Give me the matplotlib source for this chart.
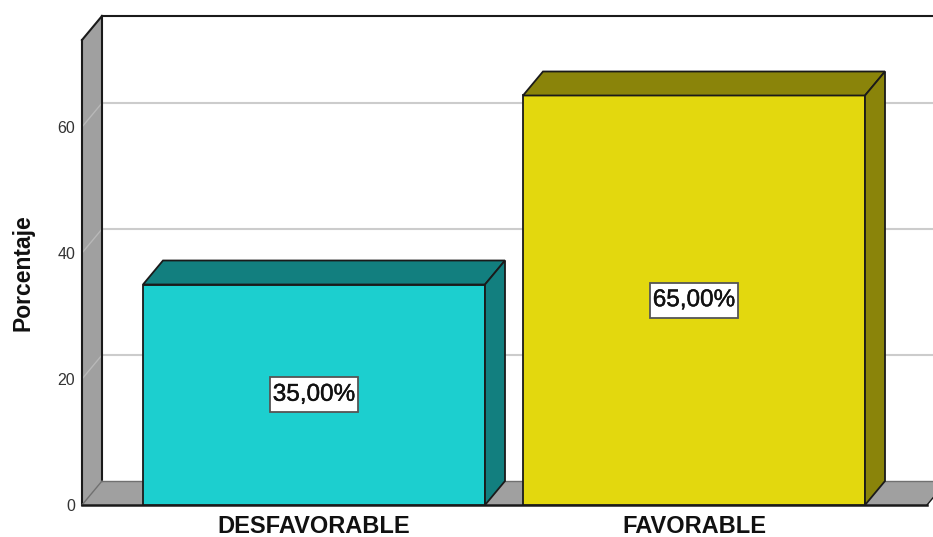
import matplotlib
matplotlib.use('Agg')
import matplotlib.pyplot as plt
import matplotlib.patheffects as pe
from matplotlib.patches import Polygon, Rectangle

categorias = ['DESFAVORABLE', 'FAVORABLE']
porcentajes = [35.0, 65.0]
etiquetas = ['35,00%', '65,00%']
colores = ['#1ccfcf', '#e3d80e']
colores_lado = ['#127f7f', '#8a840a']
ticks_y = [0, 20, 40, 60]

plt.rcParams['font.family'] = ['Liberation Sans', 'DejaVu Sans']

W, H = 933, 537
fig = plt.figure(figsize=(W / 100, H / 100), dpi=100)
# ejes en pixeles de la imagen
ax = fig.add_axes([82 / W, (H - 505) / H, (927 - 82) / W, (505 - 40) / H])
px_x = 380.0
px_y = 6.3
ax.set_xlim(-(314 - 82) / px_x, (927 - 314) / px_x)
ax.set_ylim(0, (505 - 40) / px_y)
dx = 20 / px_x
dy = 24 / px_y
ancho = 342 / px_x
x0, x1 = ax.get_xlim()
y1 = ax.get_ylim()[1]
negro = '#1a1a1a'
gris = '#a0a0a0'


def poly(puntos, **kw):
    p = Polygon(puntos, closed=True, clip_on=False, **kw)
    ax.add_patch(p)


# pared izquierda y suelo
poly([(x0, 0), (x0 + dx, dy), (x0 + dx, y1 + dy), (x0, y1)], facecolor=gris, edgecolor='none', zorder=1)
poly([(x0, 0), (x0 + dx, dy), (x1 + dx, dy), (x1, 0)], facecolor=gris, edgecolor='none', zorder=1)
# rejilla
for t in ticks_y[1:]:
    ax.plot([x0, x0 + dx], [t, t + dy], color='#b8b8b8', lw=1.0, clip_on=False, zorder=2)
    ax.plot([x0 + dx, x1 + dx], [t + dy, t + dy], color='#cccccc', lw=1.5, clip_on=False, zorder=2)
# bordes
ax.plot([x0, x0], [0, y1], color=negro, lw=1.5, clip_on=False, zorder=3)
ax.plot([x0 + dx, x0 + dx], [dy, y1 + dy], color=negro, lw=1.5, clip_on=False, zorder=3)
ax.plot([x0, x0 + dx], [y1, y1 + dy], color=negro, lw=1.5, clip_on=False, zorder=3)
ax.plot([x0 + dx, x1 + dx], [y1 + dy, y1 + dy], color=negro, lw=1.5, clip_on=False, zorder=3)
ax.plot([x0, x0 + dx], [0, dy], color='#707070', lw=1, clip_on=False, zorder=3)
ax.plot([x0 + dx, x1 + dx], [dy, dy], color='#707070', lw=1, clip_on=False, zorder=3)
ax.plot([x1, x1 + dx], [0, dy], color=negro, lw=1, clip_on=False, zorder=3)
ax.plot([x0, x1], [0, 0], color=negro, lw=1.8, clip_on=False, zorder=3)

# barras 3D
caja_w = 88 / px_x
caja_h = 35 / px_y
for i, v in enumerate(porcentajes):
    a = i - ancho / 2
    b = i + ancho / 2
    ax.bar(i, v, width=ancho, color=colores[i], edgecolor=negro, linewidth=1.3, zorder=4)
    poly([(a, v), (a + dx, v + dy), (b + dx, v + dy), (b, v)],
         facecolor=colores_lado[i], edgecolor=negro, linewidth=1.3, zorder=4)
    poly([(b, 0), (b + dx, dy), (b + dx, v + dy), (b, v)],
         facecolor=colores_lado[i], edgecolor=negro, linewidth=1.3, zorder=4)
    ax.add_patch(Rectangle((i - caja_w / 2, v / 2 - caja_h / 2), caja_w, caja_h, facecolor='white',
                           edgecolor='#555555', linewidth=1.3, zorder=5))
    ax.text(i, v / 2, etiquetas[i], ha='center', va='center', fontsize=17.5, color='#111111', zorder=6,
            path_effects=[pe.withStroke(linewidth=0.3, foreground='#111111')])

for s in ax.spines.values():
    s.set_visible(False)
ax.set_xticks(range(len(categorias)))
ax.set_xticklabels(categorias, fontsize=17, fontweight='bold', color='#111111')
ax.set_yticks(ticks_y)
ax.set_yticklabels([str(t) for t in ticks_y], fontsize=11.5, color='#333333')
ax.tick_params(axis='x', length=0, pad=7)
ax.tick_params(axis='y', length=0, pad=5)
ax.set_ylabel('Porcentaje', fontsize=16.5, fontweight='bold', color='#111111')
ax.yaxis.set_label_coords(-48 / (927 - 82), (505 - 273) / (505 - 40))
fig.savefig('out.png', dpi=100)
